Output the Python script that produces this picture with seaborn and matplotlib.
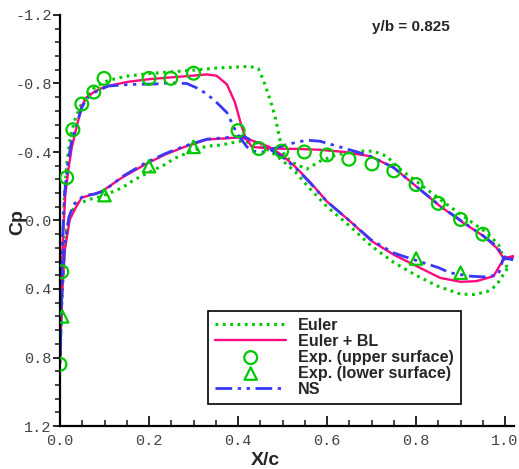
import matplotlib
matplotlib.use("Agg")
import matplotlib.pyplot as plt
import seaborn as sns
from matplotlib.ticker import MultipleLocator, FormatStrFormatter

# Euler (inviscid) - upper / lower surface, both starting at the leading edge
euler_up_x = [0.0, 0.003, 0.006, 0.010, 0.016, 0.024, 0.035, 0.05, 0.075, 0.10, 0.12, 0.15, 0.20, 0.25,
              0.30, 0.35, 0.39, 0.427, 0.446, 0.457, 0.472, 0.483, 0.494, 0.498, 0.506, 0.524, 0.554,
              0.584, 0.622, 0.674, 0.704, 0.734, 0.764, 0.80, 0.854, 0.906, 0.959, 0.985, 1.0, 1.005]
euler_up_cp = [0.80, 0.40, 0.10, -0.15, -0.35, -0.50, -0.60, -0.69, -0.77, -0.81, -0.825, -0.843, -0.858,
               -0.868, -0.878, -0.89, -0.895, -0.90, -0.885, -0.82, -0.706, -0.61, -0.473, -0.415, -0.375,
               -0.337, -0.30, -0.346, -0.385, -0.405, -0.405, -0.375, -0.30, -0.23, -0.123, -0.025, 0.072,
               0.14, 0.24, 0.28]
euler_lo_x = [0.0, 0.004, 0.008, 0.015, 0.025, 0.04, 0.056, 0.075, 0.094, 0.12, 0.139, 0.165, 0.191, 0.236,
              0.255, 0.30, 0.33, 0.36, 0.404, 0.434, 0.45, 0.47, 0.50, 0.53, 0.56, 0.60, 0.65, 0.70, 0.75,
              0.80, 0.85, 0.90, 0.93, 0.96, 0.98, 0.995, 1.005]
euler_lo_cp = [0.80, 0.50, 0.25, 0.05, -0.05, -0.10, -0.113, -0.13, -0.142, -0.17, -0.19, -0.235, -0.27,
               -0.327, -0.36, -0.41, -0.434, -0.44, -0.463, -0.454, -0.43, -0.41, -0.35, -0.28, -0.19,
               -0.08, 0.03, 0.15, 0.245, 0.32, 0.385, 0.43, 0.432, 0.415, 0.38, 0.32, 0.28]

# Euler + boundary layer
ebl_up_x = [0.0, 0.003, 0.007, 0.012, 0.019, 0.026, 0.034, 0.049, 0.06, 0.079, 0.10, 0.116, 0.153, 0.20,
            0.236, 0.28, 0.33, 0.352, 0.375, 0.393, 0.408, 0.416, 0.431, 0.472, 0.53, 0.584, 0.64, 0.697,
            0.749, 0.80, 0.854, 0.906, 0.951, 0.981, 0.996, 1.018]
ebl_up_cp = [0.80, 0.45, 0.07, -0.15, -0.30, -0.42, -0.51, -0.67, -0.72, -0.755, -0.78, -0.79, -0.81,
             -0.825, -0.833, -0.842, -0.853, -0.845, -0.795, -0.69, -0.55, -0.49, -0.43, -0.42, -0.418,
             -0.413, -0.40, -0.375, -0.31, -0.20, -0.083, 0.013, 0.09, 0.16, 0.218, 0.21]
ebl_lo_x = [0.0, 0.004, 0.011, 0.022, 0.037, 0.049, 0.071, 0.094, 0.139, 0.191, 0.236, 0.28, 0.33, 0.36,
            0.404, 0.43, 0.45, 0.47, 0.50, 0.53, 0.56, 0.60, 0.65, 0.70, 0.75, 0.80, 0.854, 0.90, 0.936,
            0.974, 0.996, 1.018]
ebl_lo_cp = [0.80, 0.46, 0.17, -0.006, -0.083, -0.134, -0.15, -0.17, -0.25, -0.327, -0.385, -0.43, -0.473,
             -0.478, -0.485, -0.468, -0.45, -0.43, -0.38, -0.31, -0.23, -0.11, 0.0, 0.12, 0.20, 0.265,
             0.335, 0.358, 0.354, 0.325, 0.228, 0.21]

# Navier-Stokes
ns_up_x = [0.0, 0.003, 0.006, 0.010, 0.017, 0.025, 0.034, 0.049, 0.06, 0.079, 0.108, 0.153, 0.213, 0.247,
           0.285, 0.315, 0.345, 0.375, 0.397, 0.42, 0.434, 0.457, 0.48, 0.509, 0.554, 0.584, 0.636, 0.674,
           0.697, 0.749, 0.80, 0.854, 0.906, 0.951, 0.981, 0.996, 1.018]
ns_up_cp = [0.83, 0.45, 0.10, -0.15, -0.32, -0.45, -0.53, -0.66, -0.71, -0.75, -0.785, -0.794, -0.797,
            -0.804, -0.80, -0.765, -0.707, -0.63, -0.51, -0.43, -0.405, -0.400, -0.42, -0.444, -0.469,
            -0.463, -0.424, -0.395, -0.375, -0.31, -0.20, -0.085, 0.01, 0.09, 0.15, 0.21, 0.228]
ns_lo_x = [0.0, 0.004, 0.010, 0.02, 0.03, 0.041, 0.056, 0.079, 0.10, 0.139, 0.191, 0.236, 0.28, 0.33,
           0.367, 0.412, 0.434, 0.472, 0.50, 0.53, 0.56, 0.60, 0.65, 0.70, 0.75, 0.794, 0.85, 0.876, 0.921,
           0.959, 0.985, 0.996, 1.018]
ns_lo_cp = [0.83, 0.45, 0.15, -0.02, -0.09, -0.123, -0.146, -0.155, -0.175, -0.255, -0.335, -0.39, -0.435,
            -0.475, -0.483, -0.492, -0.463, -0.415, -0.37, -0.305, -0.225, -0.11, 0.0, 0.115, 0.19, 0.228,
            0.275, 0.305, 0.325, 0.33, 0.315, 0.22, 0.228]

# Experiment
exp_up_x = [0.0, 0.004, 0.015, 0.029, 0.049, 0.076, 0.099, 0.2, 0.249, 0.3, 0.4, 0.447, 0.498, 0.549,
            0.6, 0.649, 0.701, 0.75, 0.8, 0.85, 0.9, 0.95]
exp_up_cp = [0.84, 0.30, -0.25, -0.53, -0.68, -0.75, -0.83, -0.83, -0.83, -0.86, -0.525, -0.42, -0.405,
             -0.40, -0.383, -0.358, -0.33, -0.29, -0.21, -0.10, -0.006, 0.08]
exp_lo_x = [0.005, 0.1, 0.2, 0.3, 0.8, 0.9]
exp_lo_cp = [0.56, -0.148, -0.317, -0.43, 0.222, 0.305]

GREEN = "#00C800"
PINK = "#FF0A7E"
BLUE = "#3838F5"


def loop(lo_x, lo_cp, up_x, up_cp):
    # trailing edge -> lower surface -> leading edge -> upper surface -> trailing edge
    return lo_x[::-1] + up_x[1:], lo_cp[::-1] + up_cp[1:]


sns.set_theme(style="ticks")
plt.rcParams["font.family"] = ["Liberation Sans", "DejaVu Sans"]
plt.rcParams["axes.unicode_minus"] = False

fig = plt.figure(figsize=(5.19, 4.69), dpi=100)
ax = fig.add_axes([60 / 519, 1 - 426 / 469, 454 / 519, 411 / 469])

x, y = loop(euler_lo_x, euler_lo_cp, euler_up_x, euler_up_cp)
sns.lineplot(x=x, y=y, sort=False, estimator=None, color=GREEN, lw=2.2,
             linestyle=(0, (0.9, 1.5)), label="Euler", ax=ax)
x, y = loop(ebl_lo_x, ebl_lo_cp, ebl_up_x, ebl_up_cp)
sns.lineplot(x=x, y=y, sort=False, estimator=None, color=PINK, lw=1.7,
             label="Euler + BL", ax=ax)
x, y = loop(ns_lo_x, ns_lo_cp, ns_up_x, ns_up_cp)
sns.lineplot(x=x, y=y, sort=False, estimator=None, color=BLUE, lw=2.0,
             linestyle=(0, (6, 2, 1.2, 2, 1.2, 2)), label="NS", ax=ax)

sns.scatterplot(x=exp_up_x, y=exp_up_cp, marker="o", s=85, color=GREEN, facecolors="none",
                edgecolor=GREEN, linewidth=1.6, label="Exp. (upper surface)", ax=ax, zorder=3)
sns.scatterplot(x=exp_lo_x, y=exp_lo_cp, marker="^", s=80, color=GREEN, facecolors="none",
                edgecolor=GREEN, linewidth=1.6, label="Exp. (lower surface)", ax=ax, zorder=3)

ax.set_xlim(0.0, 1.02)
ax.set_ylim(1.2, -1.2)

ax.xaxis.set_major_locator(MultipleLocator(0.2))
ax.xaxis.set_minor_locator(MultipleLocator(0.05))
ax.yaxis.set_major_locator(MultipleLocator(0.4))
ax.yaxis.set_minor_locator(MultipleLocator(0.08))
ax.xaxis.set_major_formatter(FormatStrFormatter("%.1f"))
ax.yaxis.set_major_formatter(FormatStrFormatter("%.1f"))

ax.tick_params(axis="x", which="major", direction="in", length=7, width=1.4, pad=6)
ax.tick_params(axis="x", which="minor", direction="in", length=4, width=1.2)
ax.tick_params(axis="y", which="major", direction="out", length=5, width=1.4, pad=1)
ax.tick_params(axis="y", which="minor", direction="out", length=3.5, width=1.2)
for lab in ax.get_xticklabels() + ax.get_yticklabels():
    lab.set_fontfamily("Liberation Mono")
    lab.set_fontsize(11)
    lab.set_color("#444444")

sns.despine(ax=ax)
for side in ["left", "bottom"]:
    ax.spines[side].set_linewidth(1.6)
    ax.spines[side].set_color("black")
ax.grid(False)

ax.set_xlabel("X/c", fontsize=14, fontweight="bold", va="center")
ax.set_ylabel("Cp", fontsize=14, fontweight="bold", va="center")
ax.xaxis.set_label_coords((265 - 60) / 454, (426 - 460) / 411)
ax.yaxis.set_label_coords((18 - 60) / 454, (426 - 222) / 411)

ax.text((411 - 60) / 454, (426 - 27) / 411, "y/b = 0.825", fontsize=11, fontweight="bold",
        ha="center", va="center", transform=ax.transAxes)

order = ["Euler", "Euler + BL", "Exp. (upper surface)", "Exp. (lower surface)", "NS"]
handles, labels = ax.get_legend_handles_labels()
hmap = dict(zip(labels, handles))
leg = ax.legend([hmap[k] for k in order], order, loc="lower left",
                bbox_to_anchor=((208 - 60) / 454, (426 - 404) / 411),
                prop={"weight": "bold", "size": 11.6, "family": "Liberation Sans"},
                frameon=True, fancybox=False, framealpha=1, edgecolor="black",
                handlelength=4.4, handletextpad=0.75, labelspacing=0.06, borderpad=0.45,
                borderaxespad=0, scatterpoints=1)
leg.get_frame().set_linewidth(1.2)

fig.savefig("out.png", dpi=100)
